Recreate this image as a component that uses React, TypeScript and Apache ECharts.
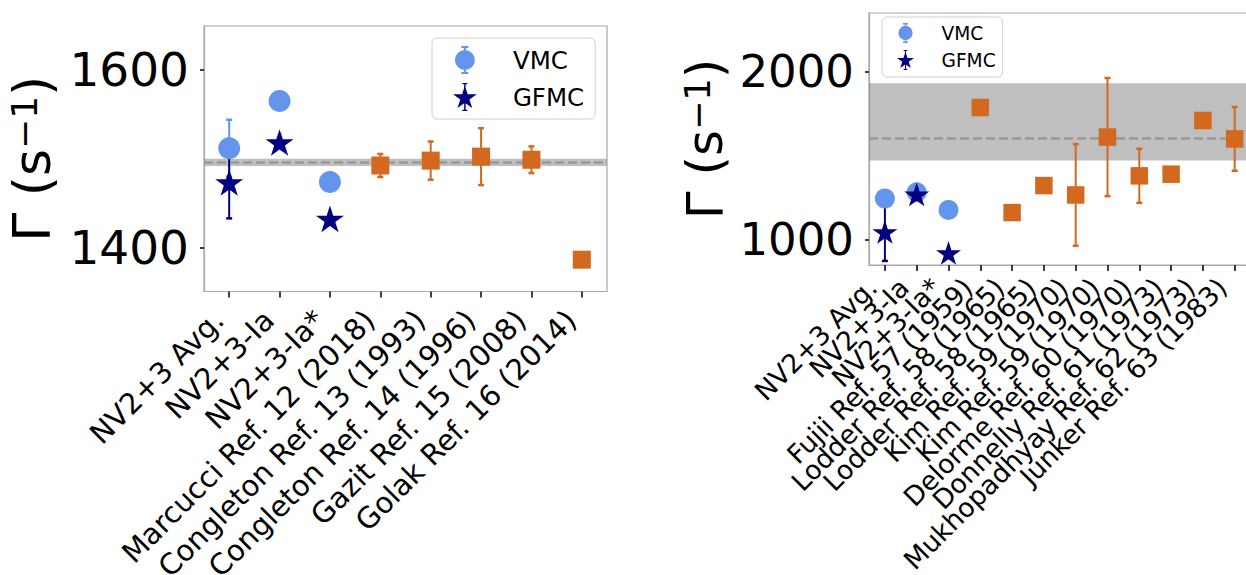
import React, { useEffect, useRef } from 'react';
import * as echarts from 'echarts';

// ---------- data ----------
const leftCategories = [
  'NV2+3 Avg.',
  'NV2+3-Ia',
  'NV2+3-Ia*',
  'Marcucci Ref. 12 (2018)',
  'Congleton Ref. 13 (1993)',
  'Congleton Ref. 14 (1996)',
  'Gazit Ref. 15 (2008)',
  'Golak Ref. 16 (2014)',
];
const leftVMC = [1512, 1565, 1474];
const leftVMCErr = [32, 0, 0];
const leftGFMC = [1475, 1520, 1434];
const leftGFMCErr = [42, 0, 0];
const leftExpIndex = [3, 4, 5, 6, 7];
const leftExp = [1492.5, 1498, 1502.5, 1499, 1386.5];
const leftExpErr = [13, 21.5, 32, 15, 0];
const leftRefLine = 1496;
const leftBand = [1492, 1500];
const leftTicks = [1400, 1600];
const leftRange = [1350.7, 1649.5];

const rightCategories = [
  'NV2+3 Avg.',
  'NV2+3-Ia',
  'NV2+3-Ia*',
  'Fujii Ref. 57 (1959)',
  'Lodder Ref. 58 (1965)',
  'Lodder Ref. 58 (1965)',
  'Kim Ref. 59 (1970)',
  'Kim Ref. 59 (1970)',
  'Delorme Ref. 60 (1970)',
  'Donnelly Ref. 61 (1973)',
  'Mukhopadhyay Ref. 62 (1973)',
  'Junker Ref. 63 (1983)',
];
const rightVMC = [1243, 1280, 1175];
const rightVMCErr = [0, 0, 0];
const rightGFMC = [1051, 1275, 926];
const rightGFMCErr = [180, 0, 0];
const rightExpIndex = [3, 4, 5, 6, 7, 8, 9, 10, 11];
const rightExp = [1785, 1159, 1320, 1264, 1609, 1378, 1388, 1708, 1598];
const rightExpErr = [0, 0, 0, 303, 352, 161, 0, 0, 190];
const rightRefLine = 1600;
const rightBand = [1470, 1930];
const rightTicks = [1000, 2000];
const rightRange = [846.7, 2348.4];

const legendNames = ['VMC', 'GFMC'];

// ---------- styles ----------
const FONT = "'DejaVu Sans', sans-serif";
const C_VMC = '#6495ED';
const C_GFMC = '#000080';
const C_EXP = '#D2691E';
const SPINE = '#a9a9a9';

const STAR =
  'path://M50,0L61.23,34.55L97.55,34.55L68.17,55.9L79.39,90.45L50,69.1L20.61,90.45L31.83,55.9L2.45,34.55L38.77,34.55Z';
const VMC_ICON =
  'path://M2,14A10,10,0,1,1,22,14A10,10,0,1,1,2,14Z M11,0L13,0L13,28L11,28Z M8.5,0L15.5,0L15.5,2L8.5,2Z M8.5,26L15.5,26L15.5,28L8.5,28Z';
const GFMC_ICON =
  'path://M50,10L61.23,44.55L97.55,44.55L68.17,65.9L79.39,100.45L50,79.1L20.61,100.45L31.83,65.9L2.45,44.55L38.77,44.55Z M47,0L53,0L53,112L47,112Z M40,0L60,0L60,5L40,5Z M40,107L60,107L60,112L40,112Z';

function errData(idx: number[], vals: number[], errs: number[]) {
  const out: number[][] = [];
  vals.forEach((v, i) => {
    if (errs[i] > 0) out.push([idx[i], v - errs[i], v + errs[i]]);
  });
  return out;
}

function errSeries(name: string, gi: number, data: number[][], color: string, z: number, capW: number) {
  return {
    type: 'custom',
    name,
    xAxisIndex: gi,
    yAxisIndex: gi,
    z,
    silent: true,
    encode: { x: 0, y: [1, 2] },
    data,
    renderItem: (params: any, api: any) => {
      const x = api.value(0);
      const p1 = api.coord([x, api.value(1)]);
      const p2 = api.coord([x, api.value(2)]);
      const st = { stroke: color, lineWidth: 2 };
      const cap = { stroke: color, lineWidth: 2.5 };
      return {
        type: 'group',
        children: [
          { type: 'line', shape: { x1: p1[0], y1: p1[1], x2: p2[0], y2: p2[1] }, style: st },
          { type: 'line', shape: { x1: p1[0] - capW, y1: p1[1], x2: p1[0] + capW, y2: p1[1] }, style: cap },
          { type: 'line', shape: { x1: p2[0] - capW, y1: p2[1], x2: p2[0] + capW, y2: p2[1] }, style: cap },
        ],
      };
    },
  };
}

function idxPairs(idx: number[], vals: number[]) {
  return vals.map((v, i) => [idx[i], v]);
}

function bandSeries(gi: number, band: number[], line: number) {
  return {
    type: 'scatter',
    name: 'band' + gi,
    xAxisIndex: gi,
    yAxisIndex: gi,
    data: [],
    z: 1,
    silent: true,
    markArea: {
      silent: true,
      itemStyle: { color: 'rgba(128,128,128,0.5)' },
      data: [[{ yAxis: band[0] }, { yAxis: band[1] }]],
    },
    markLine: {
      silent: true,
      symbol: 'none',
      label: { show: false },
      lineStyle: { color: '#999999', width: 2.5, type: [9, 4] },
      data: [{ yAxis: line }],
    },
  };
}

function buildSide(gi: number, opts: any) {
  const { vmc, vmcErr, gfmc, gfmcErr, expIdx, exp, expErr, band, line, sCircle, sStar, sSquare, capW } = opts;
  const base = [0, 1, 2];
  return [
    bandSeries(gi, band, line),
    errSeries('VMC err', gi, errData(base, vmc, vmcErr), C_VMC, 2, capW),
    errSeries('GFMC err', gi, errData(base, gfmc, gfmcErr), C_GFMC, 3, capW),
    {
      type: 'scatter',
      name: 'VMC',
      xAxisIndex: gi,
      yAxisIndex: gi,
      z: 4,
      symbol: 'circle',
      symbolSize: sCircle,
      itemStyle: { color: C_VMC, opacity: 1 },
      data: idxPairs(base, vmc),
    },
    {
      type: 'scatter',
      name: 'GFMC',
      xAxisIndex: gi,
      yAxisIndex: gi,
      z: 5,
      symbol: STAR,
      symbolKeepAspect: true,
      symbolSize: sStar,
      symbolOffset: [0, sStar * 0.05],
      itemStyle: { color: C_GFMC, opacity: 1 },
      data: idxPairs(base, gfmc),
    },
    errSeries('Exp err', gi, errData(expIdx, exp, expErr), C_EXP, 6, capW),
    {
      type: 'scatter',
      name: 'Experiment',
      xAxisIndex: gi,
      yAxisIndex: gi,
      z: 7,
      symbol: 'rect',
      symbolSize: sSquare,
      itemStyle: { color: C_EXP, opacity: 1 },
      data: idxPairs(expIdx, exp),
    },
  ];
}

function xAxisCfg(gi: number, cats: string[], fontSize: number, margin: number, padRight: number) {
  return {
    type: 'category',
    gridIndex: gi,
    data: cats,
    boundaryGap: true,
    axisLine: { show: true, lineStyle: { color: SPINE, width: 1.2 } },
    axisTick: { show: true, alignWithLabel: true, length: 6, lineStyle: { color: '#000', width: 1.5 } },
    axisLabel: {
      interval: 0,
      rotate: 45,
      margin,
      padding: [0, padRight, 0, 0],
      fontSize,
      fontFamily: FONT,
      color: '#000',
      hideOverlap: false,
    },
    splitLine: { show: false },
  };
}

function yAxisCfg(gi: number, range: number[], ticks: number[], fontSize: number, nameSize: number, nameGap: number) {
  return {
    type: 'value',
    gridIndex: gi,
    min: range[0],
    max: range[1],
    axisLine: { show: true, lineStyle: { color: SPINE, width: 1.2 } },
    axisTick: { show: true, length: 4, customValues: ticks, lineStyle: { color: '#000', width: 1.5 } },
    axisLabel: {
      customValues: ticks,
      formatter: (v: number) => String(Math.round(v)),
      fontSize,
      fontFamily: FONT,
      color: '#000',
      margin: 15,
    },
    splitLine: { show: false },
    name: '{a|Γ (s}{b|−1}{a|)}',
    nameLocation: 'middle',
    nameGap,
    nameTextStyle: {
      rich: {
        a: { fontSize: nameSize, lineHeight: nameSize, fontFamily: FONT, color: '#000' },
        b: { fontSize: Math.round(nameSize * 0.7), fontFamily: FONT, color: '#000', verticalAlign: 'top' },
      },
    },
  };
}

function legendCfg(left: number, top: number, padding: number[], item: number, gap: number, fontSize: number, textGap: number) {
  return {
    show: true,
    orient: 'vertical',
    left,
    top,
    padding,
    itemWidth: item,
    itemHeight: item,
    itemGap: gap,
    backgroundColor: 'rgba(255,255,255,0.85)',
    borderColor: '#d0d0d0',
    borderWidth: 1,
    borderRadius: 5,
    selectedMode: false,
    data: [
      { name: legendNames[0], icon: VMC_ICON },
      { name: legendNames[1], icon: GFMC_ICON },
    ],
    formatter: '{g| }{name}',
    textStyle: {
      fontSize,
      fontFamily: FONT,
      color: '#000',
      rich: { g: { width: textGap, fontSize } },
    },
  };
}

export default function App() {
  const ref = useRef<HTMLDivElement>(null);
  useEffect(() => {
    if (!ref.current) return;
    const chart = echarts.init(ref.current, null, { renderer: 'svg' });
    const option: any = {
      animation: false,
      backgroundColor: '#fff',
      grid: [
        {
          left: 204, top: 26, width: 403, height: 265.5, show: true, borderColor: SPINE, borderWidth: 1.2,
          backgroundColor: 'transparent', containLabel: false, outerBoundsMode: 'none',
        },
        {
          left: 869, top: 13, width: 381.6, height: 252, show: true, borderColor: SPINE, borderWidth: 1.2,
          backgroundColor: 'transparent', containLabel: false, outerBoundsMode: 'none',
        },
      ],
      xAxis: [
        xAxisCfg(0, leftCategories, 29, 13, 15),
        xAxisCfg(1, rightCategories, 26.5, 5, 18),
      ],
      yAxis: [
        yAxisCfg(0, leftRange, leftTicks, 47, 52, 146),
        yAxisCfg(1, rightRange, rightTicks, 45, 50, 139),
      ],
      legend: [
        legendCfg(432, 38, [8, 11, 8, 21], 28, 9, 24.5, 29),
        legendCfg(882, 17, [6, 7, 7, 15], 20, 7, 18.6, 21),
      ],
      series: [
        ...buildSide(0, {
          vmc: leftVMC, vmcErr: leftVMCErr, gfmc: leftGFMC, gfmcErr: leftGFMCErr,
          expIdx: leftExpIndex, exp: leftExp, expErr: leftExpErr,
          band: leftBand, line: leftRefLine, sCircle: 22, sStar: 28, sSquare: 18, capW: 3,
        }),
        ...buildSide(1, {
          vmc: rightVMC, vmcErr: rightVMCErr, gfmc: rightGFMC, gfmcErr: rightGFMCErr,
          expIdx: rightExpIndex, exp: rightExp, expErr: rightExpErr,
          band: rightBand, line: rightRefLine, sCircle: 20, sStar: 25, sSquare: 17.5, capW: 3,
        }),
      ],
    };
    chart.setOption(option);
    return () => chart.dispose();
  }, []);
  return (
    <div
      ref={ref}
      style={{ position: 'absolute', left: 0, top: 0, width: 1246, height: 575, background: '#fff' }}
    />
  );
}
